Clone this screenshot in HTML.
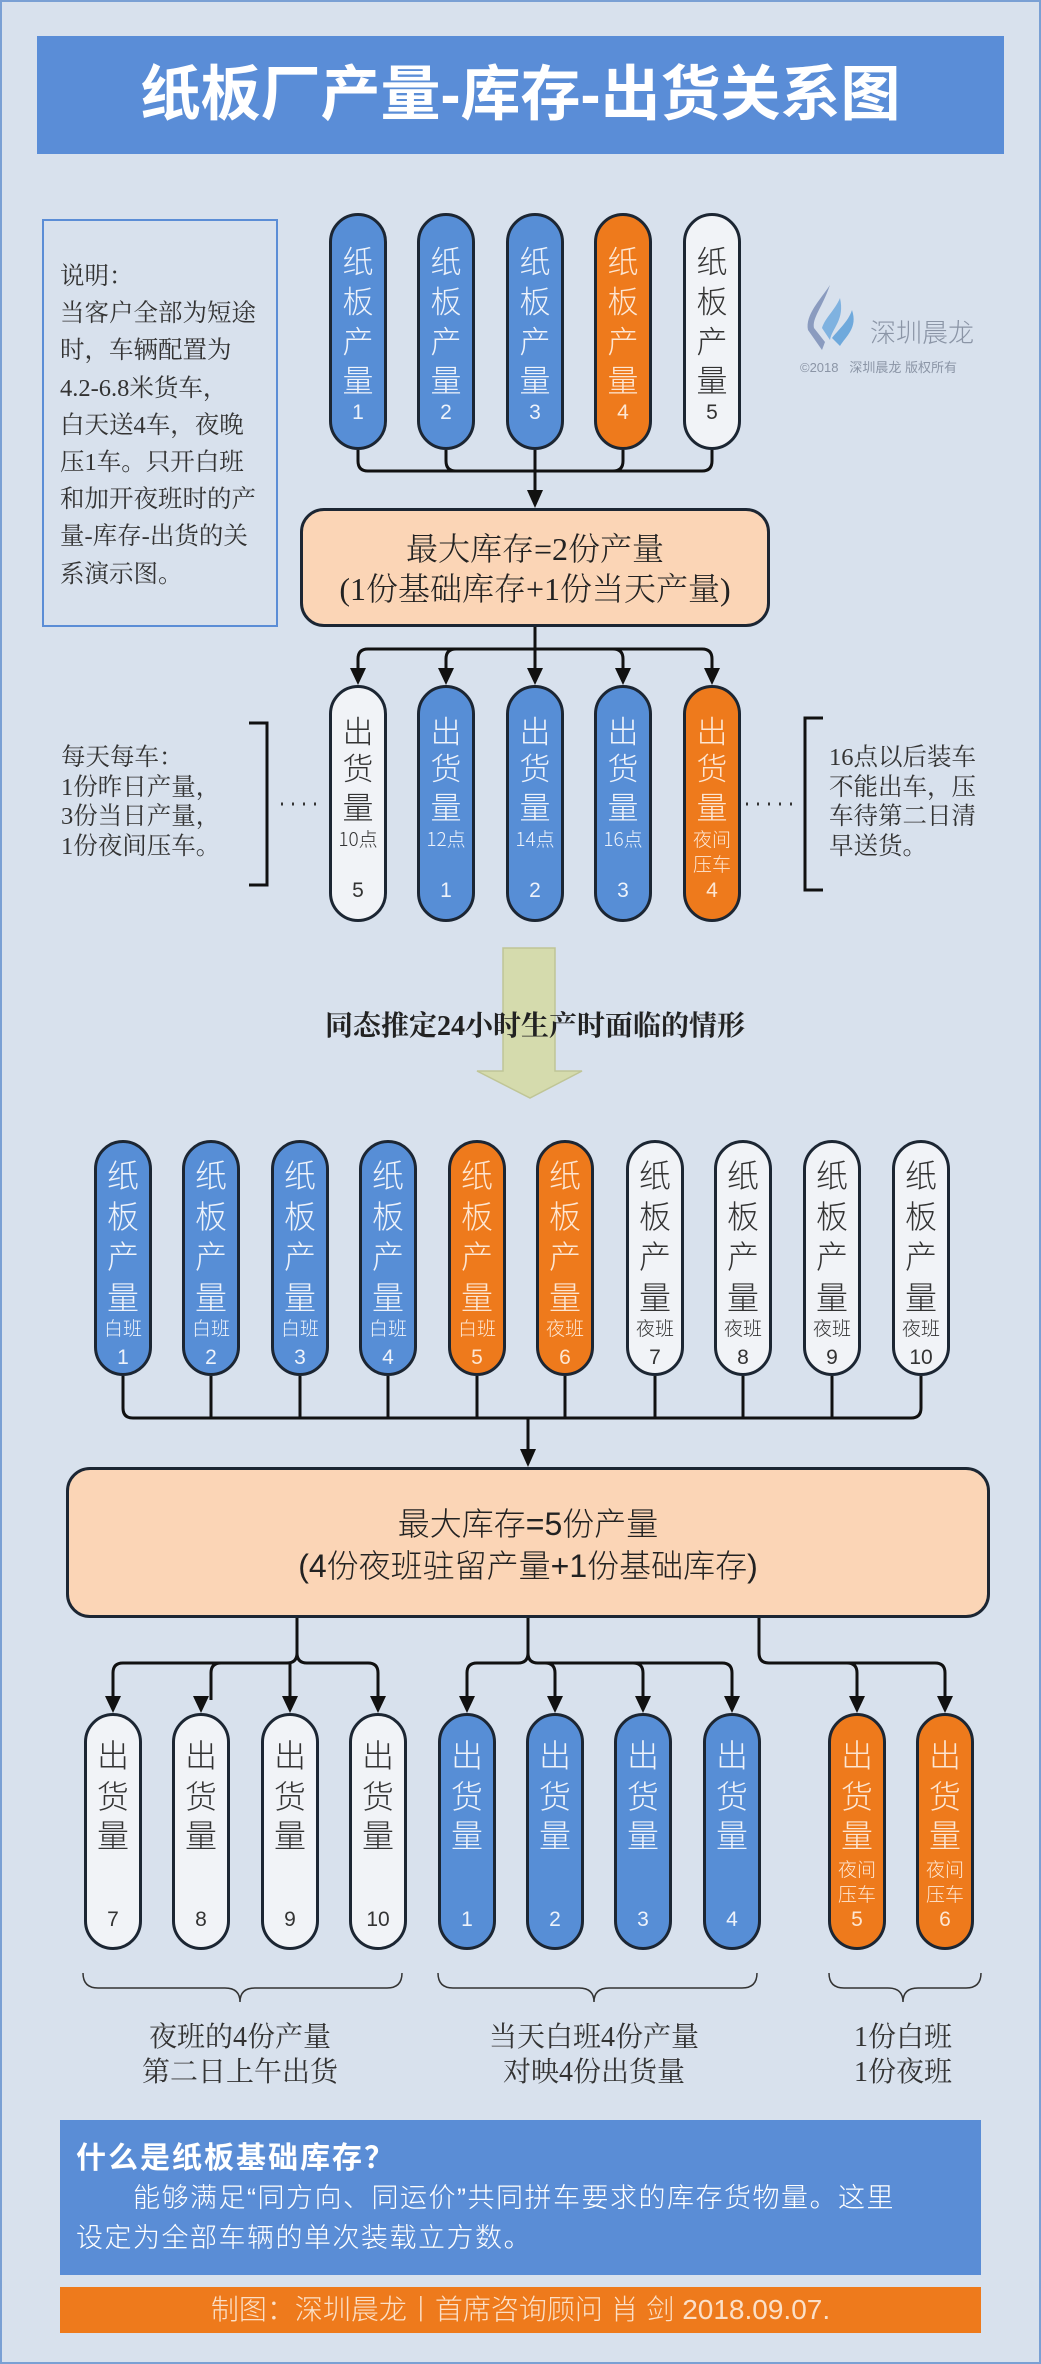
<!DOCTYPE html>
<html><head><meta charset="utf-8">
<style>
*{margin:0;padding:0;box-sizing:border-box}
body{width:1041px;height:2364px;position:relative;background:#d8e1ed;font-family:"Liberation Sans","Noto Sans CJK SC",sans-serif;overflow:hidden}
.frame{position:absolute;left:0;top:0;width:1041px;height:2364px;border:2px solid #7aa0d4}
.abs{position:absolute}
.cap{position:absolute;width:58px;height:237px;border:3px solid #1c2633;border-radius:29px}
.b{background:#578ed6;color:#eef3fb}
.o{background:#ee7a1c;color:#fde6d2}
.w{background:#f1f3f7;color:#333}
.t{position:absolute;left:0;right:0;text-align:center;line-height:1;font-family:"Noto Sans CJK SC",sans-serif;font-weight:300}
.f30{font-size:31px}.f31{font-size:32px}.s19{font-size:19px}.s21{font-size:21px;font-family:"Liberation Sans",sans-serif;font-weight:400}
.serif{font-family:"Liberation Serif","Noto Serif CJK SC",serif}
</style></head><body>
<div class="frame"></div>
<div class="abs" style="left:37px;top:36px;width:967px;height:118px;background:#5a8dd7;color:#fff;font-weight:bold;font-size:60px;text-align:center;line-height:118px;font-family:'Liberation Sans','Noto Sans CJK SC',sans-serif;">纸板厂产量-库存-出货关系图</div>

<div class="abs serif" style="left:42px;top:219px;width:236px;height:408px;border:2px solid #5b8dd6;padding:37px 0 0 16px;font-size:24.5px;line-height:37.2px;color:#333;white-space:nowrap">说明：<br>当客户全部为短途<br>时，车辆配置为<br>4.2-6.8米货车，<br>白天送4车，夜晚<br>压1车。只开白班<br>和加开夜班时的产<br>量-库存-出货的关<br>系演示图。</div>

<svg class="abs" style="left:800px;top:280px" width="75" height="75" viewBox="0 0 75 75">
<path d="M30 5 C20 20 5 35 8 50 L22 70 L25 62 L14 48 C12 38 22 28 30 5Z" fill="#8a9bbf"/>
<path d="M40 18 C35 30 25 38 22 48 L30 60 C32 48 45 40 40 18Z" fill="#7fb2e0"/>
<path d="M52 30 C48 42 38 50 32 58 L40 66 C46 56 58 48 52 30Z" fill="#6fa9dc"/>
</svg>
<div class="abs" style="left:870px;top:318px;font-size:26px;color:#8b95a6;font-family:'Noto Sans CJK SC',sans-serif;font-weight:300;line-height:28px">深圳晨龙</div>
<div class="abs" style="left:800px;top:360px;font-size:13px;color:#8b95a6;line-height:16px;white-space:nowrap">©2018&nbsp;&nbsp;&nbsp;深圳晨龙 版权所有</div>

<svg class="abs" style="left:0;top:0" width="1041" height="2364">
<g fill="none" stroke="#111" stroke-width="3">
<path d="M358 450 V461 Q358 471 368 471 H702 Q712 471 712 461 V450"/>
<path d="M446 450 V461 Q446 471 456 471"/><path d="M623 450 V461 Q623 471 613 471"/>
<path d="M535 450 V495"/>
<path d="M535 627 V649"/>
<path d="M358 672 V659 Q358 649 368 649 H702 Q712 649 712 659 V672"/>
<path d="M446 672 V659 Q446 649 456 649"/><path d="M623 672 V659 Q623 649 613 649"/><path d="M535 649 V672"/>
<path d="M123 1376 V1408 Q123 1418 133 1418 H911 Q921 1418 921 1408 V1376"/>
<path d="M211 1376 V1418 M300 1376 V1418 M388 1376 V1418 M477 1376 V1418 M565 1376 V1418 M655 1376 V1418 M743 1376 V1418 M832 1376 V1418"/>
<path d="M528 1418 V1454"/>
<path d="M297 1618 V1653 Q297 1663 287 1663 H123 Q113 1663 113 1673 V1700"/>
<path d="M297 1653 Q297 1663 307 1663 H368 Q378 1663 378 1673 V1700"/>
<path d="M211 1700 V1673 Q211 1663 221 1663 M290 1700 V1663"/>
<path d="M528 1618 V1653 Q528 1663 518 1663 H477 Q467 1663 467 1673 V1700"/>
<path d="M528 1653 Q528 1663 538 1663 H722 Q732 1663 732 1673 V1700"/>
<path d="M555 1700 V1673 Q555 1663 545 1663 M643 1700 V1673 Q643 1663 633 1663"/>
<path d="M759 1618 V1653 Q759 1663 769 1663 H935 Q945 1663 945 1673 V1700"/>
<path d="M857 1700 V1673 Q857 1663 847 1663"/>
<path d="M249 723 H267 V885 H249"/>
<path d="M823 718 H805 V890 H823"/>
</g>
<g fill="#111">
<polygon points="527,490 543,490 535,508"/>
<polygon points="350,668 366,668 358,685"/>
<polygon points="438,668 454,668 446,685"/><polygon points="527,668 543,668 535,685"/><polygon points="615,668 631,668 623,685"/><polygon points="704,668 720,668 712,685"/>
<polygon points="520,1449 536,1449 528,1467"/>
<polygon points="105,1696 121,1696 113,1713"/><polygon points="193,1696 209,1696 201,1713"/><polygon points="282,1696 298,1696 290,1713"/><polygon points="370,1696 386,1696 378,1713"/>
<polygon points="459,1696 475,1696 467,1713"/><polygon points="547,1696 563,1696 555,1713"/><polygon points="635,1696 651,1696 643,1713"/><polygon points="724,1696 740,1696 732,1713"/>
<polygon points="849,1696 865,1696 857,1713"/><polygon points="937,1696 953,1696 945,1713"/>
</g>
<g fill="none" stroke="#333" stroke-width="3" stroke-dasharray="2 9">
<path d="M281 804 H325"/><path d="M746 804 H793"/>
</g>
<g fill="none" stroke="#333" stroke-width="1.5">
<path d="M83 1973 Q83 1988 98 1988 H225 Q240 1988 240 2002 Q240 1988 255 1988 H387 Q402 1988 402 1973"/>
<path d="M438 1973 Q438 1988 453 1988 H579 Q594 1988 594 2002 Q594 1988 609 1988 H742 Q757 1988 757 1973"/>
<path d="M829 1973 Q829 1988 844 1988 H888 Q903 1988 903 2002 Q903 1988 918 1988 H966 Q981 1988 981 1973"/>
</g>
<polygon points="503,948 555,948 555,1071 582,1071 530,1098 477,1071 503,1071" fill="#d5dbad" stroke="#bfc596" stroke-width="1.5"/>
</svg>

<div class="abs" style="left:300px;top:508px;width:470px;height:119px;background:#fbd5b6;border:3px solid #1c2633;border-radius:24px;text-align:center;font-size:32px;line-height:40px;padding-top:18px;color:#222;font-family:'Liberation Serif','Noto Serif CJK SC',serif;font-weight:300">最大库存=2份产量<br>(1份基础库存+1份当天产量)</div>

<div class="cap b" style="left:329px;top:213px"><div class="t f30" style="top:28px">纸</div><div class="t f30" style="top:68px">板</div><div class="t f30" style="top:108px">产</div><div class="t f30" style="top:147px">量</div><div class="t s21" style="top:186px">1</div></div>
<div class="cap b" style="left:417px;top:213px"><div class="t f30" style="top:28px">纸</div><div class="t f30" style="top:68px">板</div><div class="t f30" style="top:108px">产</div><div class="t f30" style="top:147px">量</div><div class="t s21" style="top:186px">2</div></div>
<div class="cap b" style="left:506px;top:213px"><div class="t f30" style="top:28px">纸</div><div class="t f30" style="top:68px">板</div><div class="t f30" style="top:108px">产</div><div class="t f30" style="top:147px">量</div><div class="t s21" style="top:186px">3</div></div>
<div class="cap o" style="left:594px;top:213px"><div class="t f30" style="top:28px">纸</div><div class="t f30" style="top:68px">板</div><div class="t f30" style="top:108px">产</div><div class="t f30" style="top:147px">量</div><div class="t s21" style="top:186px">4</div></div>
<div class="cap w" style="left:683px;top:213px"><div class="t f30" style="top:28px">纸</div><div class="t f30" style="top:68px">板</div><div class="t f30" style="top:108px">产</div><div class="t f30" style="top:147px">量</div><div class="t s21" style="top:186px">5</div></div>

<div class="cap w" style="left:329px;top:685px"><div class="t f30" style="top:26px">出</div><div class="t f30" style="top:63px">货</div><div class="t f30" style="top:102px">量</div><div class="t s19" style="top:141px">10点</div><div class="t s21" style="top:192px">5</div></div>
<div class="cap b" style="left:417px;top:685px"><div class="t f30" style="top:26px">出</div><div class="t f30" style="top:63px">货</div><div class="t f30" style="top:102px">量</div><div class="t s19" style="top:141px">12点</div><div class="t s21" style="top:192px">1</div></div>
<div class="cap b" style="left:506px;top:685px"><div class="t f30" style="top:26px">出</div><div class="t f30" style="top:63px">货</div><div class="t f30" style="top:102px">量</div><div class="t s19" style="top:141px">14点</div><div class="t s21" style="top:192px">2</div></div>
<div class="cap b" style="left:594px;top:685px"><div class="t f30" style="top:26px">出</div><div class="t f30" style="top:63px">货</div><div class="t f30" style="top:102px">量</div><div class="t s19" style="top:141px">16点</div><div class="t s21" style="top:192px">3</div></div>
<div class="cap o" style="left:683px;top:685px"><div class="t f30" style="top:26px">出</div><div class="t f30" style="top:63px">货</div><div class="t f30" style="top:102px">量</div><div class="t s19" style="top:141px">夜间</div><div class="t s19" style="top:166px">压车</div><div class="t s21" style="top:192px">4</div></div>

<div class="abs serif" style="left:61px;top:743px;font-size:24.5px;line-height:29.5px;color:#333">每天每车：<br>1份昨日产量，<br>3份当日产量，<br>1份夜间压车。</div>
<div class="abs serif" style="left:829px;top:743px;font-size:24.5px;line-height:29.5px;color:#333">16点以后装车<br>不能出车，压<br>车待第二日清<br>早送货。</div>

<div class="abs serif" style="left:300px;top:1009px;width:470px;text-align:center;font-size:28px;line-height:36px;color:#222;font-weight:bold">同态推定24小时生产时面临的情形</div>

<div class="cap b" style="left:94px;top:1140px;height:236px"><div class="t f31" style="top:15px">纸</div><div class="t f31" style="top:56px">板</div><div class="t f31" style="top:96px">产</div><div class="t f31" style="top:137px">量</div><div class="t s19" style="top:175px">白班</div><div class="t s21" style="top:204px">1</div></div>
<div class="cap b" style="left:182px;top:1140px;height:236px"><div class="t f31" style="top:15px">纸</div><div class="t f31" style="top:56px">板</div><div class="t f31" style="top:96px">产</div><div class="t f31" style="top:137px">量</div><div class="t s19" style="top:175px">白班</div><div class="t s21" style="top:204px">2</div></div>
<div class="cap b" style="left:271px;top:1140px;height:236px"><div class="t f31" style="top:15px">纸</div><div class="t f31" style="top:56px">板</div><div class="t f31" style="top:96px">产</div><div class="t f31" style="top:137px">量</div><div class="t s19" style="top:175px">白班</div><div class="t s21" style="top:204px">3</div></div>
<div class="cap b" style="left:359px;top:1140px;height:236px"><div class="t f31" style="top:15px">纸</div><div class="t f31" style="top:56px">板</div><div class="t f31" style="top:96px">产</div><div class="t f31" style="top:137px">量</div><div class="t s19" style="top:175px">白班</div><div class="t s21" style="top:204px">4</div></div>
<div class="cap o" style="left:448px;top:1140px;height:236px"><div class="t f31" style="top:15px">纸</div><div class="t f31" style="top:56px">板</div><div class="t f31" style="top:96px">产</div><div class="t f31" style="top:137px">量</div><div class="t s19" style="top:175px">白班</div><div class="t s21" style="top:204px">5</div></div>
<div class="cap o" style="left:536px;top:1140px;height:236px"><div class="t f31" style="top:15px">纸</div><div class="t f31" style="top:56px">板</div><div class="t f31" style="top:96px">产</div><div class="t f31" style="top:137px">量</div><div class="t s19" style="top:175px">夜班</div><div class="t s21" style="top:204px">6</div></div>
<div class="cap w" style="left:626px;top:1140px;height:236px"><div class="t f31" style="top:15px">纸</div><div class="t f31" style="top:56px">板</div><div class="t f31" style="top:96px">产</div><div class="t f31" style="top:137px">量</div><div class="t s19" style="top:175px">夜班</div><div class="t s21" style="top:204px">7</div></div>
<div class="cap w" style="left:714px;top:1140px;height:236px"><div class="t f31" style="top:15px">纸</div><div class="t f31" style="top:56px">板</div><div class="t f31" style="top:96px">产</div><div class="t f31" style="top:137px">量</div><div class="t s19" style="top:175px">夜班</div><div class="t s21" style="top:204px">8</div></div>
<div class="cap w" style="left:803px;top:1140px;height:236px"><div class="t f31" style="top:15px">纸</div><div class="t f31" style="top:56px">板</div><div class="t f31" style="top:96px">产</div><div class="t f31" style="top:137px">量</div><div class="t s19" style="top:175px">夜班</div><div class="t s21" style="top:204px">9</div></div>
<div class="cap w" style="left:892px;top:1140px;height:236px"><div class="t f31" style="top:15px">纸</div><div class="t f31" style="top:56px">板</div><div class="t f31" style="top:96px">产</div><div class="t f31" style="top:137px">量</div><div class="t s19" style="top:175px">夜班</div><div class="t s21" style="top:204px">10</div></div>

<div class="abs" style="left:66px;top:1467px;width:924px;height:151px;background:#fbd5b6;border:3px solid #1c2633;border-radius:24px;text-align:center;font-size:32px;line-height:42px;padding-top:33px;color:#222;font-family:'Liberation Sans','Noto Sans CJK SC',sans-serif;font-weight:300">最大库存=5份产量<br>(4份夜班驻留产量+1份基础库存)</div>

<div class="cap w" style="left:84px;top:1713px"><div class="t f31" style="top:22px">出</div><div class="t f31" style="top:63px">货</div><div class="t f31" style="top:102px">量</div><div class="t s21" style="top:193px">7</div></div>
<div class="cap w" style="left:172px;top:1713px"><div class="t f31" style="top:22px">出</div><div class="t f31" style="top:63px">货</div><div class="t f31" style="top:102px">量</div><div class="t s21" style="top:193px">8</div></div>
<div class="cap w" style="left:261px;top:1713px"><div class="t f31" style="top:22px">出</div><div class="t f31" style="top:63px">货</div><div class="t f31" style="top:102px">量</div><div class="t s21" style="top:193px">9</div></div>
<div class="cap w" style="left:349px;top:1713px"><div class="t f31" style="top:22px">出</div><div class="t f31" style="top:63px">货</div><div class="t f31" style="top:102px">量</div><div class="t s21" style="top:193px">10</div></div>
<div class="cap b" style="left:438px;top:1713px"><div class="t f31" style="top:22px">出</div><div class="t f31" style="top:63px">货</div><div class="t f31" style="top:102px">量</div><div class="t s21" style="top:193px">1</div></div>
<div class="cap b" style="left:526px;top:1713px"><div class="t f31" style="top:22px">出</div><div class="t f31" style="top:63px">货</div><div class="t f31" style="top:102px">量</div><div class="t s21" style="top:193px">2</div></div>
<div class="cap b" style="left:614px;top:1713px"><div class="t f31" style="top:22px">出</div><div class="t f31" style="top:63px">货</div><div class="t f31" style="top:102px">量</div><div class="t s21" style="top:193px">3</div></div>
<div class="cap b" style="left:703px;top:1713px"><div class="t f31" style="top:22px">出</div><div class="t f31" style="top:63px">货</div><div class="t f31" style="top:102px">量</div><div class="t s21" style="top:193px">4</div></div>
<div class="cap o" style="left:828px;top:1713px"><div class="t f31" style="top:22px">出</div><div class="t f31" style="top:63px">货</div><div class="t f31" style="top:102px">量</div><div class="t s19" style="top:143px">夜间</div><div class="t s19" style="top:168px">压车</div><div class="t s21" style="top:193px">5</div></div>
<div class="cap o" style="left:916px;top:1713px"><div class="t f31" style="top:22px">出</div><div class="t f31" style="top:63px">货</div><div class="t f31" style="top:102px">量</div><div class="t s19" style="top:143px">夜间</div><div class="t s19" style="top:168px">压车</div><div class="t s21" style="top:193px">6</div></div>

<div class="abs serif" style="left:90px;top:2020px;width:300px;text-align:center;font-size:28px;line-height:35px;color:#333">夜班的4份产量<br>第二日上午出货</div>
<div class="abs serif" style="left:444px;top:2020px;width:300px;text-align:center;font-size:28px;line-height:35px;color:#333">当天白班4份产量<br>对映4份出货量</div>
<div class="abs serif" style="left:803px;top:2020px;width:200px;text-align:center;font-size:28px;line-height:35px;color:#333">1份白班<br>1份夜班</div>

<div class="abs" style="left:60px;top:2120px;width:921px;height:155px;background:#5a8dd6;color:#fff;padding:20px 0 0 16px;font-family:'Liberation Sans','Noto Sans CJK SC',sans-serif;">
<div style="font-size:30px;font-weight:bold;line-height:38px;letter-spacing:2px">什么是纸板基础库存？</div>
<div style="font-size:27px;line-height:40px;letter-spacing:1.5px;font-weight:300;white-space:nowrap"><span style="display:inline-block;width:57px"></span>能够满足“同方向、同运价”共同拼车要求的库存货物量。这里<br>设定为全部车辆的单次装载立方数。</div>
</div>
<div class="abs" style="left:60px;top:2287px;width:921px;height:46px;background:#ee7a1c;color:#fbe0c8;text-align:center;font-size:28px;line-height:46px;font-family:'Liberation Sans','Noto Sans CJK SC',sans-serif;font-weight:300;white-space:nowrap">制图：深圳晨龙丨首席咨询顾问 肖 剑 2018.09.07.</div>
</body></html>
